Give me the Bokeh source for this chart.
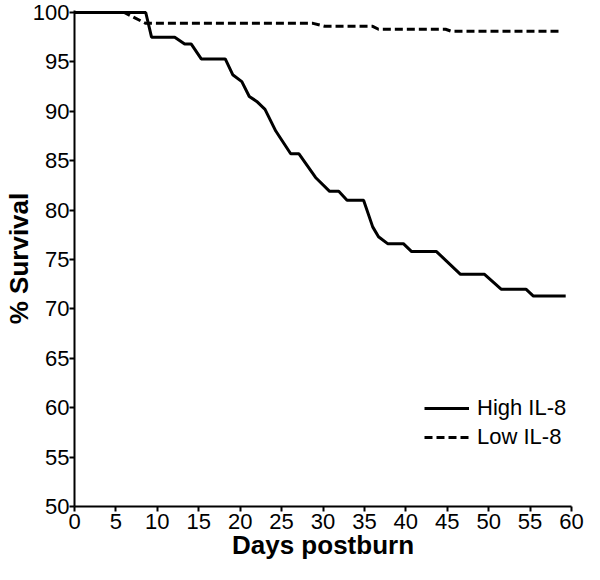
from bokeh.plotting import figure
from bokeh.models import Range1d, FixedTicker, Legend, LegendItem
from bokeh.embed import file_html
from bokeh.resources import INLINE

# Data
high_days = [0, 8.6, 9.3, 12.1, 13.3, 14.1, 15.3, 18.2, 19.1, 20.2, 21.1, 22.0, 23.0,
             24.3, 26.1, 27.1, 29.1, 30.8, 31.9, 32.9, 34.9, 36.0, 36.7, 37.8, 39.7,
             40.7, 43.7, 46.6, 49.5, 51.5, 54.5, 55.4, 59.3]
high_surv = [100, 100, 97.5, 97.5, 96.8, 96.8, 95.3, 95.3, 93.7, 93.0, 91.5, 91.0, 90.2,
             88.0, 85.7, 85.7, 83.3, 81.9, 81.9, 81.0, 81.0, 78.3, 77.3, 76.6, 76.6,
             75.8, 75.8, 73.5, 73.5, 72.0, 72.0, 71.3, 71.3]
low_days = [0, 6.0, 8.6, 28.8, 30.2, 36.0, 36.7, 44.8, 45.5, 58.5]
low_surv = [100, 100, 98.9, 98.9, 98.6, 98.6, 98.3, 98.3, 98.1, 98.1]

x_ticks = list(range(0, 61, 5))
y_ticks = list(range(50, 101, 5))
series_names = ["High IL-8", "Low IL-8"]

FONT = "Liberation Sans"

p = figure(width=584, height=564, output_backend="svg", toolbar_location=None,
           x_range=Range1d(0, 60), y_range=Range1d(50, 100.2))
p.min_border_left = 60
p.min_border_right = 13
p.min_border_top = 10
p.min_border_bottom = 58
p.outline_line_color = None
p.xgrid.visible = False
p.ygrid.visible = False
p.background_fill_color = "white"
p.border_fill_color = "white"

for ax in (p.xaxis[0], p.yaxis[0]):
    ax.axis_line_width = 2
    ax.axis_line_color = "black"
    ax.major_tick_line_width = 2
    ax.major_tick_line_color = "black"
    ax.major_tick_out = 5
    ax.major_tick_in = 0
    ax.minor_tick_line_color = None
    ax.major_label_text_font = FONT
    ax.major_label_text_font_size = "22px"
    ax.major_label_text_color = "black"
    ax.axis_label_text_font = FONT
    ax.axis_label_text_font_style = "bold"
    ax.axis_label_text_font_size = "26px"
    ax.axis_label_text_color = "black"

p.xaxis[0].ticker = FixedTicker(ticks=x_ticks)
p.yaxis[0].ticker = FixedTicker(ticks=y_ticks)
p.xaxis[0].major_label_standoff = 2
p.yaxis[0].major_label_standoff = 0
p.xaxis[0].axis_label_standoff = -2
p.yaxis[0].axis_label_standoff = -4
p.xaxis[0].axis_label = "Days postburn"
p.yaxis[0].axis_label = "% Survival"

r_high = p.line(high_days, high_surv, line_color="black", line_width=3)
r_low = p.line(low_days, low_surv, line_color="black", line_width=3, line_dash="8 4")

legend = Legend(items=[LegendItem(label=series_names[0], renderers=[r_high]),
                       LegendItem(label=series_names[1], renderers=[r_low])],
                location=(350, 56))
legend.border_line_color = None
legend.background_fill_alpha = 0
legend.padding = 0
legend.margin = 0
legend.spacing = 3
legend.glyph_width = 45
legend.glyph_height = 22
legend.label_height = 22
legend.label_standoff = 8
legend.label_text_font = FONT
legend.label_text_font_size = "22px"
legend.label_text_color = "black"
p.add_layout(legend, "center")

open("out.html", "w").write(file_html(p, INLINE))
